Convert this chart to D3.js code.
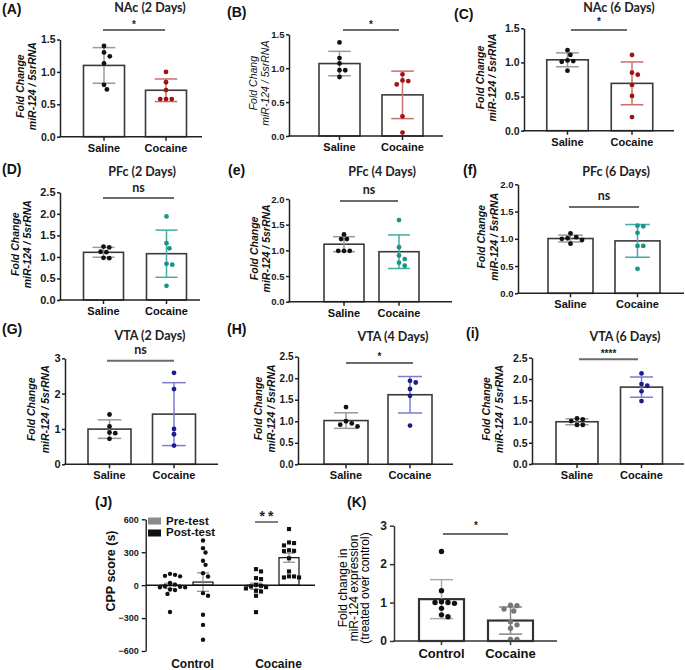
<!DOCTYPE html>
<html lang="en">
<head>
<meta charset="utf-8">
<script src="https://d3js.org/d3.v7.min.js"></script>
<style>
body { margin: 0; background: #fff; }
svg { display: block; font-family: "Liberation Sans", Arial, sans-serif; }
.plabel { font-size: 14px; font-weight: bold; fill: #111; }
.ptitle { font-family: Lato, "Liberation Sans", sans-serif; font-size: 12.5px; font-weight: bold; fill: #222; }
.ns { font-family: Lato, "Liberation Sans", sans-serif; font-size: 12.5px; font-weight: bold; fill: #222; }
.star { font-size: 10px; font-weight: bold; fill: #222; }
.ytitle { font-size: 10.5px; font-weight: bold; font-style: italic; fill: #111; }
.ytitle.light { font-weight: normal; }
.xlab { font-size: 11px; font-weight: bold; fill: #111; }
.tick text { font-size: 10.5px; font-weight: bold; fill: #1a1a1a; }
</style>
</head>
<body>
<div id="chart"></div>
<script>

// ---- values ----
var groups = ["Saline", "Cocaine"];

var salineA = [1.40, 1.30, 1.24, 1.13, 0.80, 0.73];
var cocaineA = [1.00, 0.84, 0.72, 0.58, 0.58, 0.58];
var salineB = [1.38, 1.15, 1.07, 0.97, 0.97, 0.87];
var cocaineB = [0.91, 0.82, 0.81, 0.76, 0.29, 0.05];
var salineC = [1.18, 1.11, 1.03, 1.02, 1.01, 0.88];
var cocaineC = [1.11, 0.85, 0.82, 0.67, 0.51, 0.20];

var salineD = [1.24, 1.22, 1.12, 1.11, 0.98, 0.97];
var cocaineD = [1.94, 1.32, 1.20, 0.84, 0.82, 0.33];
var salineE = [1.31, 1.22, 1.22, 0.99, 0.99, 0.99];
var cocaineE = [1.59, 1.06, 0.90, 0.83, 0.76, 0.70];
var salineF = [1.10, 1.03, 1.01, 1.00, 0.98, 0.91];
var cocaineF = [1.24, 1.23, 1.11, 0.87, 0.87, 0.45];

var salineG = [1.41, 1.07, 0.90, 0.88, 0.72];
var cocaineG = [2.59, 2.13, 1.00, 0.85, 0.53];
var salineH = [1.33, 1.00, 0.95, 0.92, 0.88];
var cocaineH = [1.94, 1.90, 1.75, 1.59, 0.90];
var salineI = [1.07, 1.05, 1.01, 0.92, 0.92];
var cocaineI = [2.13, 1.88, 1.84, 1.71, 1.48];

var ticks15 = [0, 0.5, 1.0, 1.5];
var ticks20 = [0, 0.5, 1.0, 1.5, 2.0];
var ticks25 = [0, 0.5, 1.0, 1.5, 2.0, 2.5];
var ticks3 = [0, 1, 2, 3];

// (J) CPP score
var cppGroups = ["Control", "Cocaine"];
var phases = ["Pre-test", "Post-test"];
var cppControlPre = [103, 94, 85, 80, 20, 5, -10, -15, -20, -20, -40, -45, -80, -245];
var cppControlPost = [407, 337, 298, 222, 185, 109, 79, -73, -97, -270, -362, -498];
var cppCocainePre = [146, 125, 64, 55, 3, -6, -12, -18, -30, -52, -58, -97, -246];
var cppCocainePost = [511, 389, 383, 362, 318, 313, 310, 245, 125, 80, 79, 70, 70];
var cppTicks = [-600, -300, 0, 300, 600];

// (K)
var kGroups = ["Control", "Cocaine"];
var controlK = [2.33, 1.31, 1.02, 1.00, 1.00, 0.98, 0.85, 0.68, 0.63];
var cocaineK = [0.93, 0.92, 0.83, 0.78, 0.50, 0.42, 0.33, 0.04, 0.04];

// ---- colours ----
var salCol = "#111", salErr = "#9a9a9a";
var nacCol = "#a01212", nacErr = "#c87070";
var pfcCol = "#1b9488", pfcErr = "#45aba4";
var vtaCol = "#1c1c8e", vtaErr = "#7d7dcc";

var svg = d3.select("#chart").append("svg")
  .attr("width", 685).attr("height", 670);

var fmt1 = d3.format(".1f"), fmt0 = d3.format("d");
var yt2 = ["Fold Change", "miR-124 / 5srRNA"];

var panels = [
  {lab: "(A)", lx: 2, ly: 14, title: "NAc (2 Days)", tx: 150, ty: 11.5,
   ox: 60, xEnd: 202, y0: 136.7, yTop: 39.5, ticks: ticks15, tf: 10.5, c: [104, 166], bw: 41,
   data: [salineA, cocaineA], col: nacCol, err: nacErr,
   sig: [103, 165, 30], sigText: "*", sigY: 27.7, yt: yt2, ytx: [24, 36]},
  {lab: "(B)", lx: 227, ly: 17, title: "", tx: 0, ty: 0,
   ox: 289, xEnd: 443, y0: 136, yTop: 34.3, ticks: ticks15, tf: 9.5, c: [339.5, 402.5], bw: 41,
   data: [salineB, cocaineB], col: nacCol, err: nacErr,
   sig: [343, 399, 30], sigText: "*", sigY: 27.7, yt: ["Fold Chang", "miR-124 / 5srRNA"], ytx: [257, 268.5], light: true},
  {lab: "(C)", lx: 454, ly: 19, title: "NAc (6 Days)", tx: 619, ty: 11.5,
   ox: 524, xEnd: 674, y0: 130.7, yTop: 28.3, ticks: ticks15, tf: 10.5, c: [567.5, 632], bw: 41.5,
   data: [salineC, cocaineC], col: nacCol, err: nacErr,
   sig: [571, 627, 30], sigText: "*", sigY: 24.7, yt: yt2, ytx: [483.5, 496]},

  {lab: "(D)", lx: 2, ly: 174, title: "PFc (2 Days)", tx: 142, ty: 176,
   ox: 60, xEnd: 200, y0: 300, yTop: 192.3, ticks: ticks25, tf: 11, c: [103.5, 166.5], bw: 40,
   data: [salineD, cocaineD], col: pfcCol, err: pfcErr,
   sig: [103, 174, 198], sigText: "ns", sigY: 192, yt: yt2, ytx: [18.5, 30.5]},
  {lab: "(e)", lx: 228, ly: 175, title: "PFc (4 Days)", tx: 382, ty: 176,
   ox: 289, xEnd: 452, y0: 301.7, yTop: 199, ticks: ticks20, tf: 9.5, c: [344, 399], bw: 40,
   data: [salineE, cocaineE], col: pfcCol, err: pfcErr,
   sig: [340, 398, 201], sigText: "ns", sigY: 194, yt: yt2, ytx: [257.5, 269.5]},
  {lab: "(f)", lx: 463, ly: 175, title: "PFc (6 Days)", tx: 616, ty: 176,
   ox: 518, xEnd: 684, y0: 293.3, yTop: 184.3, ticks: ticks20, tf: 9.5, c: [570.5, 637.5], bw: 45,
   data: [salineF, cocaineF], col: pfcCol, err: pfcErr,
   sig: [569, 639, 207], sigText: "ns", sigY: 200, yt: yt2, ytx: [485, 498]},

  {lab: "(G)", lx: 2, ly: 334, title: "VTA (2 Days)", tx: 150, ty: 340,
   ox: 65, xEnd: 218, y0: 464.3, yTop: 358.3, ticks: ticks3, tf: 11, fmt: fmt0, c: [109.5, 174], bw: 43,
   data: [salineG, cocaineG], col: vtaCol, err: vtaErr,
   sig: [107, 174, 360.7], sigText: "ns", sigY: 354, yt: yt2, ytx: [35, 48.5]},
  {lab: "(H)", lx: 227, ly: 334, title: "VTA (4 Days)", tx: 393, ty: 341,
   ox: 298, xEnd: 453, y0: 464.3, yTop: 356.7, ticks: ticks25, tf: 10, c: [346, 410], bw: 44,
   data: [salineH, cocaineH], col: vtaCol, err: vtaErr,
   sig: [346, 413, 363], sigText: "*", sigY: 360, yt: yt2, ytx: [262, 275]},
  {lab: "(i)", lx: 466, ly: 338, title: "VTA (6 Days)", tx: 625, ty: 341,
   ox: 532, xEnd: 684, y0: 464, yTop: 357.7, ticks: ticks25, tf: 10.5, c: [577, 641.5], bw: 42,
   data: [salineI, cocaineI], col: vtaCol, err: vtaErr,
   sig: [579, 638, 359.3], sigText: "****", sigY: 356.7, yt: yt2, ytx: [490, 503]}
];

// simple beeswarm: push points sideways until they stop overlapping
function dodge(vals, y, r) {
  var order = d3.range(vals.length).sort(function(a, b) { return vals[b] - vals[a]; });
  var placed = [], dx = new Array(vals.length);
  var step = r * 1.2, minD = 2 * r + 0.4;
  order.forEach(function(i) {
    var py = y(vals[i]);
    for (var k = 0; k < 40; k++) {
      var off = (k === 0) ? 0 : (k % 2 ? 1 : -1) * Math.ceil(k / 2) * step;
      var hit = placed.some(function(p) {
        return Math.hypot(p[0] - off, p[1] - py) < minD;
      });
      if (!hit) { dx[i] = off; placed.push([off, py]); break; }
    }
  });
  return dx;
}

function errBar(g, cx, y, lo, hi, cap, col, w) {
  g.append("line").attr("x1", cx).attr("x2", cx).attr("y1", y(lo)).attr("y2", y(hi))
    .attr("stroke", col).attr("stroke-width", w);
  [lo, hi].forEach(function(v) {
    g.append("line").attr("x1", cx - cap / 2).attr("x2", cx + cap / 2)
      .attr("y1", y(v)).attr("y2", y(v)).attr("stroke", col).attr("stroke-width", w);
  });
}

function rotText(g, x, y, txt, cls) {
  return g.append("text").attr("class", cls)
    .attr("transform", "translate(" + x + "," + y + ") rotate(-90)")
    .attr("text-anchor", "middle").text(txt);
}

function barPanel(p) {
  var g = svg.append("g");
  var y = d3.scaleLinear().domain([0, p.ticks[p.ticks.length - 1]]).range([p.y0, p.yTop]);
  var x = d3.scalePoint().domain(groups).range(p.c);

  g.append("text").attr("class", "plabel").attr("x", p.lx).attr("y", p.ly).text(p.lab);
  if (p.title) g.append("text").attr("class", "ptitle").attr("x", p.tx).attr("y", p.ty)
    .attr("text-anchor", "middle").text(p.title);

  var colours = [salCol, p.col], errs = [salErr, p.err];
  groups.forEach(function(name, i) {
    var vals = p.data[i], m = d3.mean(vals), sd = d3.deviation(vals);
    var cx = x(name);
    g.append("rect").attr("x", cx - p.bw / 2).attr("y", y(m))
      .attr("width", p.bw).attr("height", y(0) - y(m))
      .attr("fill", "#fff").attr("stroke", "#3a3a3a").attr("stroke-width", 1.6);
    errBar(g, cx, y, m - sd, m + sd, p.bw * 0.55, errs[i], 1.5);
    var dx = dodge(vals, y, 2.4);
    g.selectAll(null).data(vals).enter().append("circle")
      .attr("cx", function(d, j) { return cx + dx[j]; })
      .attr("cy", function(d) { return y(d); })
      .attr("r", 2.4).attr("fill", colours[i]);
  });

  // axes
  var ya = g.append("g").attr("transform", "translate(" + p.ox + ",0)")
    .call(d3.axisLeft(y).tickValues(p.ticks).tickSize(3).tickPadding(1.5)
      .tickSizeOuter(0).tickFormat(p.fmt || fmt1));
  ya.selectAll("path, line").attr("stroke", "#222").attr("stroke-width", 1.5);
  ya.selectAll("text").style("font-size", p.tf + "px");
  g.append("line").attr("x1", p.ox - 0.75).attr("x2", p.xEnd).attr("y1", y(0)).attr("y2", y(0))
    .attr("stroke", "#222").attr("stroke-width", 1.5);
  groups.forEach(function(name) {
    g.append("line").attr("x1", x(name)).attr("x2", x(name)).attr("y1", y(0)).attr("y2", y(0) + 4)
      .attr("stroke", "#222").attr("stroke-width", 1.5);
    g.append("text").attr("class", "xlab").attr("x", x(name)).attr("y", y(0) + 15)
      .attr("text-anchor", "middle").text(name);
  });

  // significance bar
  g.append("line").attr("x1", p.sig[0]).attr("x2", p.sig[1]).attr("y1", p.sig[2]).attr("y2", p.sig[2])
    .attr("stroke", "#6b6b6b").attr("stroke-width", 2);
  g.append("text").attr("class", p.sigText === "ns" ? "ns" : "star")
    .attr("x", (p.sig[0] + p.sig[1]) / 2).attr("y", p.sigY)
    .attr("text-anchor", "middle").text(p.sigText);

  var yc = (p.y0 + p.yTop) / 2 - 2;
  p.yt.forEach(function(t, i) {
    rotText(g, p.ytx[i], yc, t, "ytitle" + (p.light ? " light" : ""));
  });
}

panels.forEach(barPanel);

// ---- (J) CPP score ----
(function() {
  var g = svg.append("g");
  var y = d3.scaleLinear().domain([-600, 600]).range([651, 519.3]);
  var x = d3.scalePoint().domain(cppGroups).range([186.5, 272.5]);
  var sub = d3.scalePoint().domain(phases).range([-16.5, 16.5]);
  var sets = {Control: [cppControlPre, cppControlPost], Cocaine: [cppCocainePre, cppCocainePost]};

  g.append("text").attr("class", "plabel").attr("x", 95).attr("y", 507).text("(J)");

  cppGroups.forEach(function(grp) {
    phases.forEach(function(ph, k) {
      var vals = sets[grp][k];
      var m = d3.mean(vals), sem = d3.deviation(vals) / Math.sqrt(vals.length);
      var cx = x(grp) + sub(ph);
      g.append("rect").attr("x", cx - 10).attr("y", Math.min(y(m), y(0)))
        .attr("width", 20).attr("height", Math.abs(y(0) - y(m)))
        .attr("fill", "#fff").attr("stroke", k ? "#111" : "#777").attr("stroke-width", 1.2);
      errBar(g, cx, y, m - sem, m + sem, 12, "#8a8a8a", 1.2);
      var dx = dodge(vals, y, 2.1);
      var sym = d3.symbol().type(grp === "Control" ? d3.symbolCircle : d3.symbolSquare)
        .size(grp === "Control" ? 15 : 17);
      g.selectAll(null).data(vals).enter().append("path")
        .attr("d", sym)
        .attr("transform", function(d, j) { return "translate(" + (cx + dx[j]) + "," + y(d) + ")"; })
        .attr("fill", "#111");
    });
    g.append("text").attr("class", "xlab").style("font-size", "12px")
      .attr("x", x(grp) + 6).attr("y", 668).attr("text-anchor", "middle").text(grp);
  });

  g.append("line").attr("x1", 145.7).attr("x2", 315).attr("y1", y(0)).attr("y2", y(0))
    .attr("stroke", "#111").attr("stroke-width", 1.5);

  var ya = g.append("g").attr("transform", "translate(145.7,0)")
    .call(d3.axisLeft(y).tickValues(cppTicks).tickSize(4).tickSizeOuter(0).tickPadding(3));
  ya.selectAll("path, line").attr("stroke", "#111").attr("stroke-width", 1.3);
  ya.selectAll("text").style("font-family", "'Liberation Sans Narrow', 'Liberation Sans', sans-serif")
    .style("font-size", "9px").style("font-weight", "bold");

  rotText(g, 114.5, 571, "CPP score (s)", "xlab").style("font-size", "12.5px");

  // legend
  var leg = g.append("g");
  [["Pre-test", "#8a8a8a", 517.5, 524.5], ["Post-test", "#111", 529.5, 536]].forEach(function(l) {
    leg.append("rect").attr("x", 148).attr("y", l[2]).attr("width", 13).attr("height", 7).attr("fill", l[1]);
    leg.append("text").attr("class", "xlab").style("font-size", "11.5px")
      .attr("x", 166).attr("y", l[3]).text(l[0]);
  });

  // ** bar over cocaine groups
  g.append("line").attr("x1", 255).attr("x2", 278).attr("y1", 522).attr("y2", 522)
    .attr("stroke", "#555").attr("stroke-width", 1.5);
  g.append("text").attr("class", "star").style("font-size", "14px").style("letter-spacing", "3px")
    .attr("x", 268).attr("y", 521).attr("text-anchor", "middle").text("**");
})();

// ---- (K) ----
(function() {
  var g = svg.append("g");
  var y = d3.scaleLinear().domain([0, 3]).range([641, 525.7]);
  var x = d3.scalePoint().domain(kGroups).range([441.5, 510.5]);
  var sets = [controlK, cocaineK], cols = ["#111", "#777"], errs = ["#aaa", "#888"];

  g.append("text").attr("class", "plabel").attr("x", 347).attr("y", 507).text("(K)");

  kGroups.forEach(function(name, i) {
    var vals = sets[i], m = d3.mean(vals), sd = d3.deviation(vals), cx = x(name);
    g.append("rect").attr("x", cx - 22.5).attr("y", y(m)).attr("width", 45).attr("height", y(0) - y(m))
      .attr("fill", "#fff").attr("stroke", "#333").attr("stroke-width", 2.2);
    errBar(g, cx, y, m - sd, m + sd, 23, errs[i], 1.5);
    var dx = dodge(vals, y, 2.7);
    g.selectAll(null).data(vals).enter().append("circle")
      .attr("cx", function(d, j) { return cx + dx[j]; })
      .attr("cy", function(d) { return y(d); })
      .attr("r", 2.7).attr("fill", cols[i]);
    g.append("line").attr("x1", cx).attr("x2", cx).attr("y1", y(0)).attr("y2", y(0) + 4)
      .attr("stroke", "#333").attr("stroke-width", 1.5);
    g.append("text").attr("class", "xlab").style("font-size", "13px")
      .attr("x", cx).attr("y", 658).attr("text-anchor", "middle").text(name);
  });

  var ya = g.append("g").attr("transform", "translate(394,0)")
    .call(d3.axisLeft(y).tickValues(ticks3).tickSize(4).tickSizeOuter(0).tickFormat(fmt0));
  ya.selectAll("path, line").attr("stroke", "#333").attr("stroke-width", 1.5);
  ya.selectAll("text").style("font-size", "12px");
  g.append("line").attr("x1", 393.25).attr("x2", 557).attr("y1", y(0)).attr("y2", y(0))
    .attr("stroke", "#333").attr("stroke-width", 1.5);

  g.append("line").attr("x1", 443).attr("x2", 508).attr("y1", 534).attr("y2", 534)
    .attr("stroke", "#6b6b6b").attr("stroke-width", 2);
  g.append("text").attr("class", "star").attr("x", 476).attr("y", 528.7)
    .attr("text-anchor", "middle").text("*");

  [["Fold change in", 346.5], ["miR-124 expression", 358], ["(treated over control)", 369]].forEach(function(l) {
    rotText(g, l[1], 588, l[0], "").style("font-size", "12px").style("fill", "#000");
  });
})();

</script>
</body>
</html>
